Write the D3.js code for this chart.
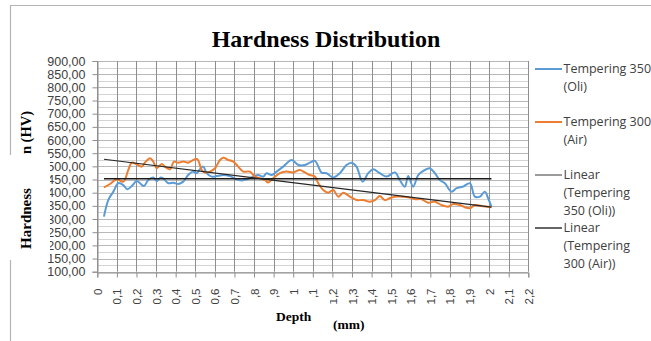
<!DOCTYPE html>
<html><head><meta charset="utf-8">
<script src="https://cdn.jsdelivr.net/npm/d3@7/dist/d3.min.js"></script>
<style>body{margin:0;background:#fff}svg{display:block}</style>
</head><body>
<script>
// ---- data ----
const depthOli = [0.034,0.056,0.082,0.107,0.133,0.153,0.176,0.201,0.218,0.238,0.260,0.286,0.303,0.323,0.340,0.362,0.388,0.413,0.439,0.464,0.487,0.507,0.524,0.541,0.558,0.584,0.609,0.643,0.677,0.711,0.737,0.762,0.796,0.821,0.847,0.864,0.890,0.915,0.949,0.992,1.026,1.060,1.085,1.111,1.145,1.170,1.204,1.238,1.272,1.298,1.323,1.354,1.383,1.408,1.442,1.477,1.519,1.544,1.570,1.587,1.612,1.638,1.663,1.697,1.723,1.748,1.774,1.808,1.834,1.867,1.902,1.927,1.953,1.978,1.995,2.012];
const hardnessOli = [309,372,404,436,429,413,425,444,436,425,448,458,444,458,452,436,438,433,442,467,480,474,489,499,474,461,463,467,463,451,446,451,461,467,461,474,467,480,499,524,505,505,514,521,476,474,458,474,505,514,499,442,474,489,474,461,477,448,423,463,423,467,482,493,474,448,436,404,417,423,436,385,385,404,379,347];
const depthAir = [0.034,0.065,0.099,0.133,0.158,0.176,0.201,0.227,0.243,0.269,0.286,0.303,0.329,0.345,0.371,0.391,0.413,0.439,0.464,0.482,0.510,0.533,0.549,0.575,0.601,0.626,0.643,0.668,0.694,0.719,0.745,0.779,0.805,0.830,0.856,0.872,0.898,0.932,0.966,1.000,1.034,1.060,1.085,1.111,1.128,1.153,1.179,1.204,1.230,1.255,1.289,1.323,1.357,1.391,1.417,1.442,1.468,1.493,1.519,1.553,1.587,1.621,1.655,1.689,1.723,1.757,1.791,1.816,1.851,1.876,1.902,1.927,1.961,1.995,2.012];
const hardnessAir = [420,433,451,442,486,514,508,499,514,531,518,493,509,499,489,518,514,518,514,521,527,486,477,480,493,524,533,524,518,499,480,480,461,455,448,439,455,474,480,477,486,477,467,461,436,410,400,410,385,400,385,372,372,366,372,387,372,379,385,385,383,375,375,362,366,353,347,357,353,345,341,353,349,347,345];
const trendDepth = [0.034, 2.012];
const trendOli = [453, 453];
const trendAir = [527, 345];
const xTicks = [0,0.1,0.2,0.3,0.4,0.5,0.6,0.7,0.8,0.9,1,1.1,1.2,1.3,1.4,1.5,1.6,1.7,1.8,1.9,2,2.1,2.2];
const xTickLabels = ["0","0,1","0,2","0,3","0,4","0,5","0,6","0,7","0,8","0,9","1","1,1","1,2","1,3","1,4","1,5","1,6","1,7","1,8","1,9","2","2,1","2,2"];
const yTicks = [100,150,200,250,300,350,400,450,500,550,600,650,700,750,800,850,900];
const yTickLabels = ["100,00","150,00","200,00","250,00","300,00","350,00","400,00","450,00","500,00","550,00","600,00","650,00","700,00","750,00","800,00","850,00","900,00"];
const yMinor = [125,175,225,275,325,375,425,475,525,575,625,675,725,775,825,875];
const legendNames = [["Tempering 350","(Oli)"],["Tempering 300","(Air)"],["Linear","(Tempering","350 (Oli))"],["Linear","(Tempering","300 (Air))"]];
const legendColors = ["#5b9bd5","#ed7d31","#595959","#000000"];

const W = 651, H = 341;
const svg = d3.select("body").append("svg").attr("width", W).attr("height", H);
const x = d3.scaleLinear().domain([0, 2.2]).range([97.3, 528.3]);
const y = d3.scaleLinear().domain([100, 900]).range([271.7, 61]);

// chart border
svg.append("path").attr("d", `M10.5,${H+2}V5.5H${W+2}`).attr("fill","none").attr("stroke","#b4b4b4").attr("stroke-width",1.2);

// title
svg.append("text").attr("x", 326).attr("y", 47).attr("text-anchor","middle")
  .attr("font-family","'Liberation Serif','Times New Roman',serif").attr("font-weight","bold")
  .attr("font-size",24).attr("fill","#000").text("Hardness Distribution");

// gridlines
const grid = svg.append("g");
grid.selectAll(".mn").data(yMinor).join("line")
  .attr("x1", x(0)).attr("x2", x(2.2)).attr("y1", d=>Math.round(y(d))+0.5).attr("y2", d=>Math.round(y(d))+0.5)
  .attr("stroke","#d4d4d4").attr("stroke-width",1);
grid.selectAll(".mj").data(yTicks).join("line")
  .attr("x1", x(0)).attr("x2", x(2.2)).attr("y1", d=>Math.round(y(d))+0.5).attr("y2", d=>Math.round(y(d))+0.5)
  .attr("stroke","#b8b8b8").attr("stroke-width",1);
grid.selectAll(".vx").data(xTicks).join("line")
  .attr("x1", d=>Math.round(x(d))+0.5).attr("x2", d=>Math.round(x(d))+0.5).attr("y1", y(900)).attr("y2", y(100))
  .attr("stroke","#8e8e8e").attr("stroke-width",1);

// axes
const tickFont = "'Liberation Sans',Arial,sans-serif";
const yAxis = svg.append("g").attr("transform",`translate(${Math.round(x(0))+0.5},0)`)
  .call(d3.axisLeft(y).tickValues(yTicks).tickSize(5).tickPadding(7).tickFormat((d,i)=>yTickLabels[i]));
yAxis.select(".domain").attr("stroke","#8e8e8e");
yAxis.selectAll(".tick line").attr("stroke","#8e8e8e");
yAxis.selectAll("text").attr("font-family",tickFont).attr("font-size",12.5).attr("fill","#404040");

const xAxis = svg.append("g").attr("transform",`translate(0,${Math.round(y(100))+0.5})`)
  .call(d3.axisBottom(x).tickValues(xTicks).tickSize(5).tickFormat((d,i)=>xTickLabels[i]));
xAxis.select(".domain").attr("stroke","#8e8e8e");
xAxis.selectAll(".tick line").attr("stroke","#8e8e8e");
xAxis.selectAll("text").attr("font-family",tickFont).attr("font-size",11.5).attr("fill","#404040")
  .attr("text-anchor","end").attr("y",0).attr("dy","0.35em")
  .attr("transform","translate(0,16) rotate(-90)");

// series
const line = d3.line().x(d=>x(d[0])).y(d=>y(d[1])).curve(d3.curveCatmullRom.alpha(0.5));
svg.append("path").datum(depthOli.map((d,i)=>[d,hardnessOli[i]])).attr("d", line)
  .attr("fill","none").attr("stroke",legendColors[0]).attr("stroke-width",2).attr("stroke-linejoin","round");
svg.append("path").datum(depthAir.map((d,i)=>[d,hardnessAir[i]])).attr("d", line)
  .attr("fill","none").attr("stroke",legendColors[1]).attr("stroke-width",2).attr("stroke-linejoin","round");
const tline = d3.line().x(d=>x(d[0])).y(d=>y(d[1]));
svg.append("path").datum(trendDepth.map((d,i)=>[d,trendOli[i]])).attr("d", tline)
  .attr("fill","none").attr("stroke","#1a1a1a").attr("stroke-width",1.3);
svg.append("path").datum(trendDepth.map((d,i)=>[d,trendAir[i]])).attr("d", tline)
  .attr("fill","none").attr("stroke","#262626").attr("stroke-width",1.2);

// axis titles (y): partially covered original title
const serif = "'Liberation Serif','Times New Roman',serif";
svg.append("text").attr("transform","translate(31,111) rotate(-90)").attr("text-anchor","end")
  .attr("font-family",serif).attr("font-weight","bold").attr("font-size",14.5).attr("fill","#000").text("n (HV)");
svg.append("rect").attr("x",0).attr("y",155).attr("width",50).attr("height",105).attr("fill","#fff");
svg.append("text").attr("transform","translate(31,218.5) rotate(-90)").attr("text-anchor","middle")
  .attr("font-family",serif).attr("font-weight","bold").attr("font-size",15).attr("fill","#000").text("Hardness");

// x title
svg.append("rect").attr("x",247).attr("y",298).attr("width",83).attr("height",34).attr("fill","#fff");
svg.append("text").attr("x",276).attr("y",321).attr("font-family",serif).attr("font-weight","bold")
  .attr("font-size",13.5).attr("fill","#000").text("Depth");
svg.append("text").attr("x",333).attr("y",329).attr("font-family",serif).attr("font-weight","bold")
  .attr("font-size",13.5).attr("fill","#000").text("(mm)");

// legend
const legY = [69, 122, 175, 228];
const lg = svg.append("g");
legendNames.forEach((lines, i) => {
  lg.append("line").attr("x1",535).attr("x2",562).attr("y1",legY[i]).attr("y2",legY[i])
    .attr("stroke",legendColors[i]).attr("stroke-width", i<2 ? 2 : 1.2);
  const t = lg.append("text").attr("x",563.5).attr("y",legY[i])
    .attr("font-family","'Open Sans','Noto Sans',sans-serif").attr("font-size",12.5).attr("fill","#404040");
  lines.forEach((s, j) => t.append("tspan").attr("x",563.5).attr("dy", j===0 ? "0.35em" : 17.6).text(s));
});
</script>
</body></html>
